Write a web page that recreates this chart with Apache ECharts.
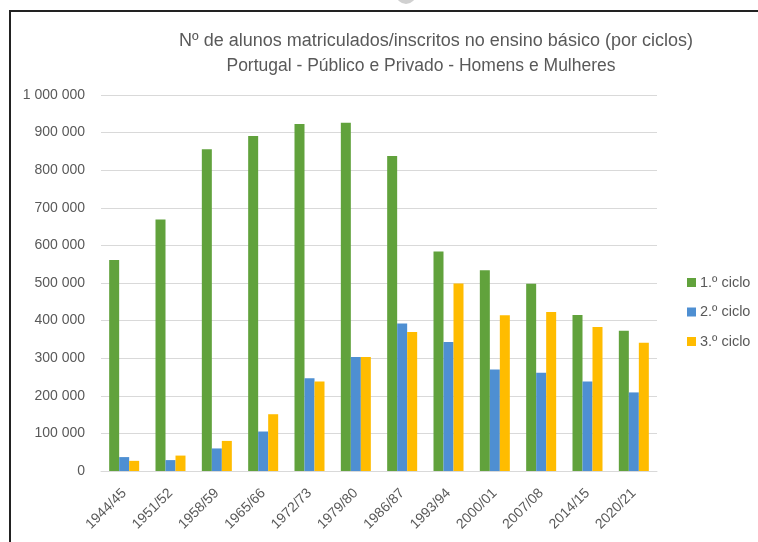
<!DOCTYPE html>
<html>
<head>
<meta charset="utf-8">
<script src="https://cdn.jsdelivr.net/npm/echarts@6/dist/echarts.min.js"></script>
<style>
  html, body { margin: 0; padding: 0; background: #fff; }
  #chart { width: 758px; height: 542px; }
</style>
</head>
<body>
<div id="chart"></div>
<script>
const categories = ['1944/45', '1951/52', '1958/59', '1965/66', '1972/73', '1979/80', '1986/87', '1993/94', '2000/01', '2007/08', '2014/15', '2020/21'];
const ciclo1 = [561000, 669000, 856000, 891000, 923000, 926000, 838000, 584000, 534000, 498000, 415000, 373000];
const ciclo2 = [37000, 29000, 60000, 105000, 247000, 303000, 392000, 343000, 270000, 261000, 238000, 209000];
const ciclo3 = [27000, 41000, 80000, 151000, 238000, 303000, 370000, 499000, 414000, 423000, 383000, 341000];
const seriesNames = ['1.º ciclo', '2.º ciclo', '3.º ciclo'];
const titleLine1 = 'Nº de alunos matriculados/inscritos no ensino básico (por ciclos)';
const titleLine2 = 'Portugal - Público e Privado - Homens e Mulheres';

const FONT = '"Liberation Sans", Arial, sans-serif';
const TXT = '#595959';

const chart = echarts.init(document.getElementById('chart'), null, { renderer: 'canvas' });

function fmt(v) {
  return String(v).replace(/\B(?=(\d{3})+(?!\d))/g, ' ');
}

chart.setOption({
  animation: false,
  backgroundColor: '#ffffff',
  title: [
    { text: titleLine1, left: 431, top: 27, textAlign: 'center',
      textStyle: { fontFamily: FONT, fontSize: 18, fontWeight: 'normal', color: TXT } },
    { text: titleLine2, left: 416, top: 52, textAlign: 'center',
      textStyle: { fontFamily: FONT, fontSize: 17.5, fontWeight: 'normal', color: TXT } }
  ],
  legend: {
    orient: 'vertical',
    left: 682,
    top: 270,
    itemWidth: 9,
    itemHeight: 9,
    itemGap: 14.5,
    icon: 'rect',
    data: seriesNames,
    textStyle: { fontFamily: FONT, fontSize: 14.5, color: TXT, padding: [0, 0, 0, -1] }
  },
  grid: { left: 101, right: 101, top: 95, bottom: 71 },
  xAxis: {
    type: 'category',
    data: categories,
    axisLine: { lineStyle: { color: '#d9d9d9', width: 1 } },
    axisTick: { show: false },
    axisLabel: { interval: 0, rotate: 45, margin: 20, fontFamily: FONT, fontSize: 14, color: TXT }
  },
  yAxis: {
    type: 'value',
    min: 0,
    max: 1000000,
    interval: 100000,
    axisLine: { show: false },
    axisTick: { show: false },
    splitLine: { lineStyle: { color: '#d9d9d9', width: 1 } },
    axisLabel: { margin: 16, fontFamily: FONT, fontSize: 14, color: TXT, formatter: fmt }
  },
  series: [
    { name: seriesNames[0], type: 'bar', data: ciclo1, barWidth: 10, barGap: '0%', itemStyle: { color: '#61A23C' } },
    { name: seriesNames[1], type: 'bar', data: ciclo2, barWidth: 10, barGap: '0%', itemStyle: { color: '#4E8FD2' } },
    { name: seriesNames[2], type: 'bar', data: ciclo3, barWidth: 10, barGap: '0%', itemStyle: { color: '#FFBC00' } }
  ],
  graphic: [
    { type: 'line', shape: { x1: 10, y1: 11, x2: 758, y2: 11 }, style: { stroke: '#222', lineWidth: 2 } },
    { type: 'line', shape: { x1: 10, y1: 10, x2: 10, y2: 542 }, style: { stroke: '#222', lineWidth: 2 } },
    { type: 'circle', shape: { cx: 406, cy: -6, r: 10 }, style: { fill: '#d0d0d0' } }
  ]
});
</script>
</body>
</html>
